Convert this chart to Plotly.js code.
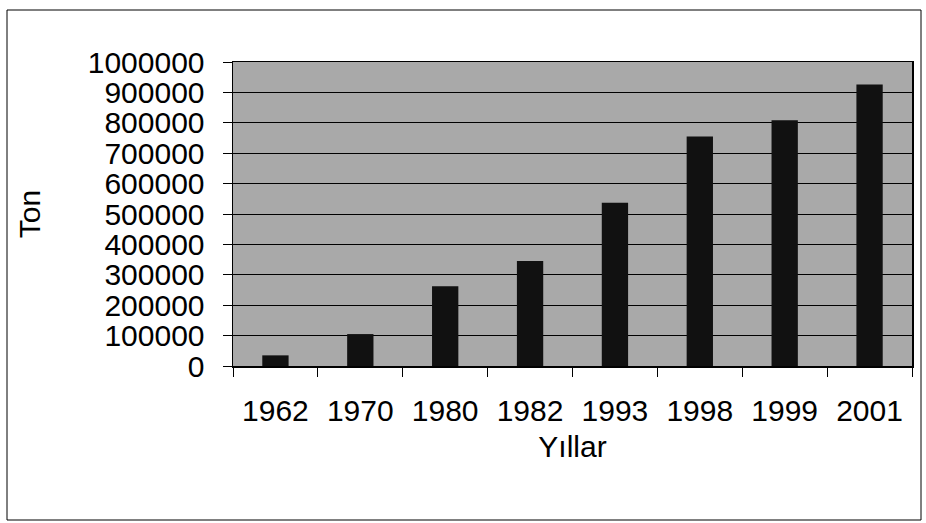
<!DOCTYPE html>
<html>
<head>
<meta charset="utf-8">
<script src="https://cdn.plot.ly/plotly-3.0.1.min.js"></script>
<style>
  html, body { margin: 0; padding: 0; background: #ffffff; }
  #chart { width: 926px; height: 523px; }
</style>
</head>
<body>
<div id="chart"></div>
<script>
const years = ["1962", "1970", "1980", "1982", "1993", "1998", "1999", "2001"];
const tons = [35000, 105000, 262000, 345000, 537000, 755000, 808000, 926000];
const yTickVals = [0, 100000, 200000, 300000, 400000, 500000, 600000, 700000, 800000, 900000, 1000000];
const yTickText = ["0", "100000", "200000", "300000", "400000", "500000", "600000", "700000", "800000", "900000", "1000000"];
const xTitle = "Yıllar";
const yTitle = "Ton";

const W = 926, H = 523;
const L = 233, R = 912, T = 62, B = 366;
const pw = R - L, ph = B - T;
const px = v => (v - L) / pw;
const py = v => (B - v) / ph;

const font = { family: "Liberation Sans, Arial, Helvetica, sans-serif", color: "#000000", size: 30 };

const data = [{
  type: "bar",
  x: years,
  y: tons,
  marker: { color: "#111111", line: { width: 0 } },
  hoverinfo: "x+y"
}];

const layout = {
  width: W, height: H,
  margin: { l: L, r: W - R, t: T, b: H - B, pad: 0 },
  paper_bgcolor: "#ffffff",
  plot_bgcolor: "#a9a9a9",
  font: font,
  showlegend: false,
  bargap: 0.69,
  xaxis: {
    type: "category",
    tickson: "boundaries",
    ticks: "outside",
    ticklen: 9,
    tickcolor: "#000000",
    tickwidth: 1,
    showline: true,
    linecolor: "#000000",
    linewidth: 1.5,
    mirror: true,
    showgrid: false,
    zeroline: false,
    tickfont: font,
    ticklabelstandoff: 17,
    title: { text: xTitle, font: font, standoff: 10 }
  },
  yaxis: {
    range: [0, 1000000],
    tickmode: "array",
    tickvals: yTickVals,
    ticktext: yTickText,
    ticks: "outside",
    ticklen: 9,
    tickcolor: "#000000",
    tickwidth: 1,
    showline: true,
    linecolor: "#000000",
    linewidth: 1.5,
    mirror: true,
    showgrid: true,
    gridcolor: "#000000",
    gridwidth: 1,
    zeroline: false,
    tickfont: font,
    ticklabelstandoff: 12,
    title: { text: yTitle, font: font, standoff: 38 }
  },
  shapes: [{
    type: "rect",
    xref: "paper", yref: "paper",
    x0: px(7), x1: px(921), y0: py(520), y1: py(10),
    line: { color: "#000000", width: 1 },
    fillcolor: "rgba(0,0,0,0)",
    layer: "below"
  }]
};

Plotly.newPlot("chart", data, layout, { staticPlot: true, displayModeBar: false });
</script>
</body>
</html>
